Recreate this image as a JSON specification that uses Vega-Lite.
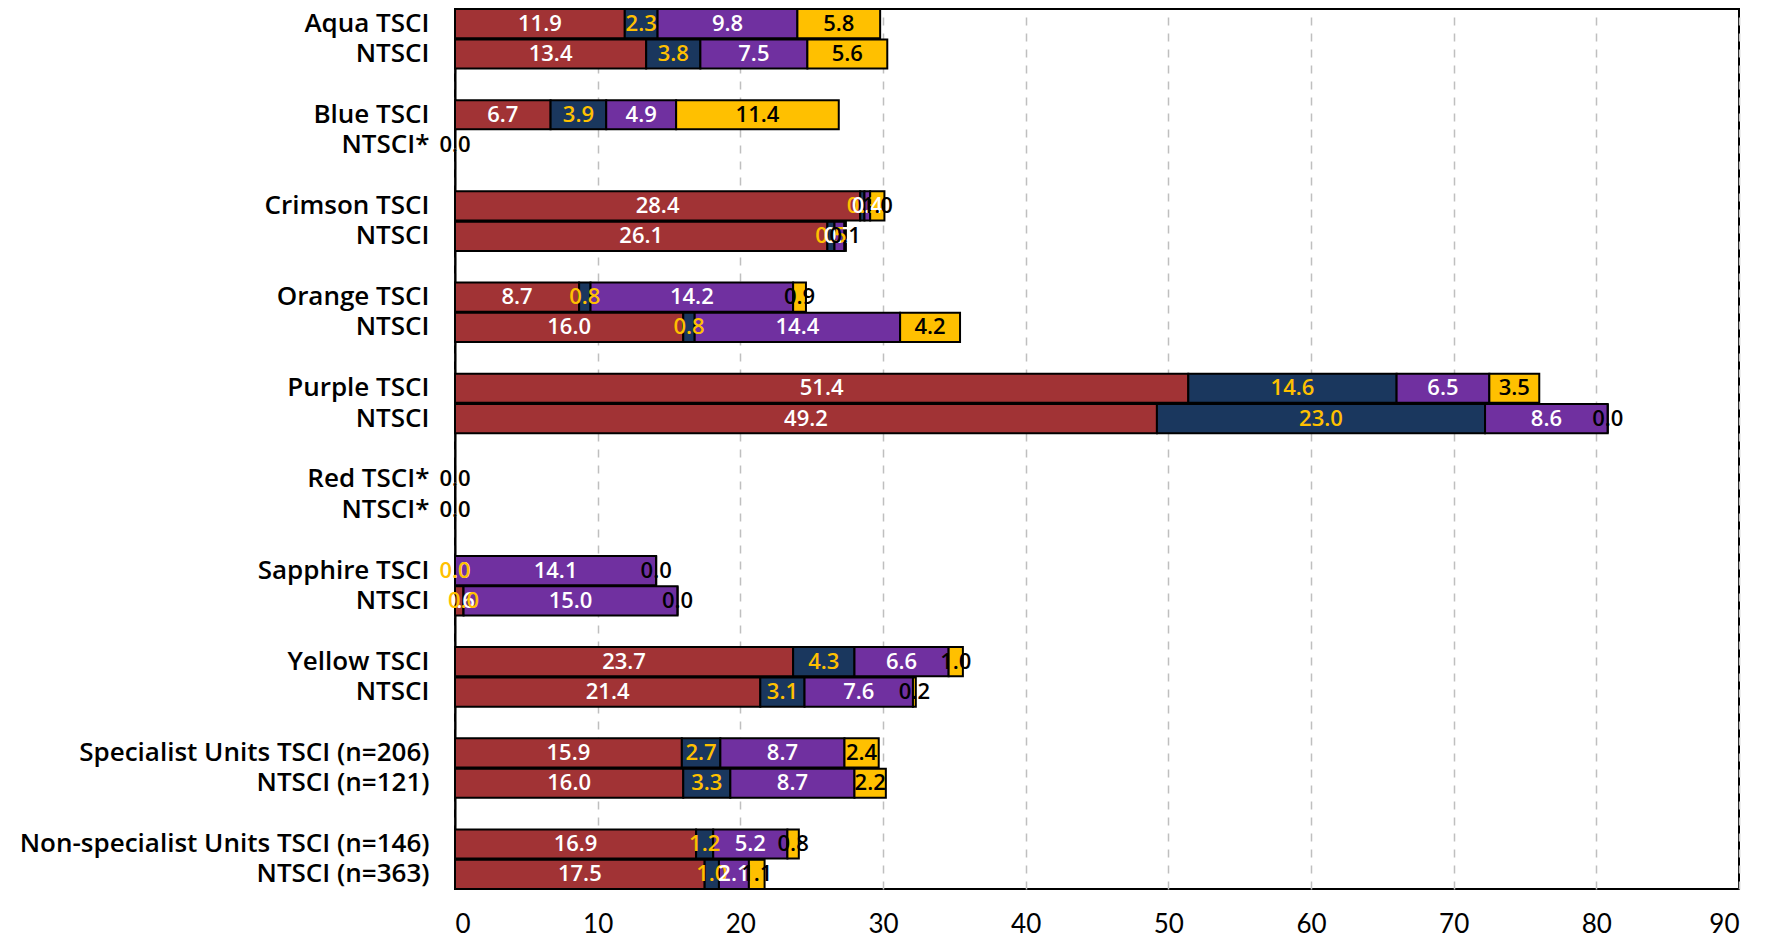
{
  "$schema": "https://vega.github.io/schema/vega-lite/v6.json",
  "autosize": "none",
  "width": 1284,
  "height": 880,
  "padding": {"left": 455, "top": 9, "right": 28, "bottom": 48},
  "background": "white",
  "config": {
    "font": "Open Sans",
    "view": {"stroke": "black", "strokeWidth": 2}
  },
  "data": {
    "values": [
      {"row": "Aqua TSCI", "s1": 11.9, "s2": 2.3, "s3": 9.8, "s4": 5.8},
      {"row": "Aqua:NTSCI", "s1": 13.4, "s2": 3.8, "s3": 7.5, "s4": 5.6},
      {"row": "Blue TSCI", "s1": 6.7, "s2": 3.9, "s3": 4.9, "s4": 11.4},
      {"row": "Blue:NTSCI*", "s1": 0.0, "s2": 0.0, "s3": 0.0, "s4": 0.0},
      {"row": "Crimson TSCI", "s1": 28.4, "s2": 0.3, "s3": 0.4, "s4": 1.0},
      {"row": "Crimson:NTSCI", "s1": 26.1, "s2": 0.5, "s3": 0.7, "s4": 0.1},
      {"row": "Orange TSCI", "s1": 8.7, "s2": 0.8, "s3": 14.2, "s4": 0.9},
      {"row": "Orange:NTSCI", "s1": 16.0, "s2": 0.8, "s3": 14.4, "s4": 4.2},
      {"row": "Purple TSCI", "s1": 51.4, "s2": 14.6, "s3": 6.5, "s4": 3.5},
      {"row": "Purple:NTSCI", "s1": 49.2, "s2": 23.0, "s3": 8.6, "s4": 0.0},
      {"row": "Red TSCI*", "s1": 0.0, "s2": 0.0, "s3": 0.0, "s4": 0.0},
      {"row": "Red:NTSCI*", "s1": 0.0, "s2": 0.0, "s3": 0.0, "s4": 0.0},
      {"row": "Sapphire TSCI", "s1": 0.0, "s2": 0.0, "s3": 14.1, "s4": 0.0},
      {"row": "Sapphire:NTSCI", "s1": 0.6, "s2": 0.0, "s3": 15.0, "s4": 0.0},
      {"row": "Yellow TSCI", "s1": 23.7, "s2": 4.3, "s3": 6.6, "s4": 1.0},
      {"row": "Yellow:NTSCI", "s1": 21.4, "s2": 3.1, "s3": 7.6, "s4": 0.2},
      {"row": "Specialist Units TSCI (n=206)", "s1": 15.9, "s2": 2.7, "s3": 8.7, "s4": 2.4},
      {"row": "Specialist:NTSCI (n=121)", "s1": 16.0, "s2": 3.3, "s3": 8.7, "s4": 2.2},
      {"row": "Non-specialist Units TSCI (n=146)", "s1": 16.9, "s2": 1.2, "s3": 5.2, "s4": 0.8},
      {"row": "Non-specialist:NTSCI (n=363)", "s1": 17.5, "s2": 1.0, "s3": 2.1, "s4": 1.1}
    ]
  },
  "transform": [
    {"fold": ["s1", "s2", "s3", "s4"], "as": ["seg", "value"]},
    {"stack": "value", "groupby": ["row"], "sort": [{"field": "seg", "order": "ascending"}], "as": ["x0", "x1"]},
    {"calculate": "(datum.x0 + datum.x1) / 2", "as": "xm"}
  ],
  "encoding": {
    "y": {
      "field": "row",
      "type": "nominal",
      "sort": null,
      "scale": {
        "domain": ["Aqua TSCI", "Aqua:NTSCI", "gap1", "Blue TSCI", "Blue:NTSCI*", "gap2", "Crimson TSCI", "Crimson:NTSCI", "gap3", "Orange TSCI", "Orange:NTSCI", "gap4", "Purple TSCI", "Purple:NTSCI", "gap5", "Red TSCI*", "Red:NTSCI*", "gap6", "Sapphire TSCI", "Sapphire:NTSCI", "gap7", "Yellow TSCI", "Yellow:NTSCI", "gap8", "Specialist Units TSCI (n=206)", "Specialist:NTSCI (n=121)", "gap9", "Non-specialist Units TSCI (n=146)", "Non-specialist:NTSCI (n=363)"],
        "paddingInner": 0.04,
        "paddingOuter": 0
      },
      "axis": {
        "title": null,
        "ticks": false,
        "domain": true,
        "domainColor": "black",
        "domainWidth": 2,
        "labelFont": "Open Sans",
        "labelFontSize": 26,
        "labelFontWeight": 600,
        "labelColor": "black",
        "labelPadding": 26,
        "labelLimit": 600,
        "labelExpr": "indexof(datum.value, 'gap') == 0 ? '' : (indexof(datum.value, ':') >= 0 ? split(datum.value, ':')[1] : datum.value)"
      }
    }
  },
  "layer": [
    {
      "mark": {"type": "bar", "stroke": "black", "strokeWidth": 2},
      "encoding": {
        "x": {
          "field": "x0",
          "type": "quantitative",
          "scale": {"domain": [0, 90], "nice": false},
          "axis": {
            "title": null,
            "values": [0, 10, 20, 30, 40, 50, 60, 70, 80, 90],
            "ticks": false,
            "domain": false,
            "grid": true,
            "gridDash": [8, 8],
            "gridColor": "#BFBFBF",
            "gridWidth": 1.5,
            "labelFont": "Lato",
            "labelFontSize": 26,
            "labelColor": "black",
            "labelPadding": 22
          }
        },
        "x2": {"field": "x1"},
        "color": {
          "field": "seg",
          "type": "nominal",
          "scale": {"domain": ["s1", "s2", "s3", "s4"], "range": ["#A13335", "#1A375E", "#7030A0", "#FFC000"]},
          "legend": null
        }
      }
    },
    {
      "mark": {"type": "text", "align": "center", "baseline": "middle", "fontSize": 22, "fontWeight": 600, "font": "Open Sans"},
      "encoding": {
        "x": {"field": "xm", "type": "quantitative"},
        "text": {"field": "value", "type": "quantitative", "format": ".1f"},
        "color": {
          "field": "seg",
          "type": "nominal",
          "scale": {"domain": ["s1", "s2", "s3", "s4"], "range": ["white", "#FFC000", "white", "black"]},
          "legend": null
        },
        "order": {"field": "seg"}
      }
    }
  ],
  "resolve": {"scale": {"color": "independent"}}
}
